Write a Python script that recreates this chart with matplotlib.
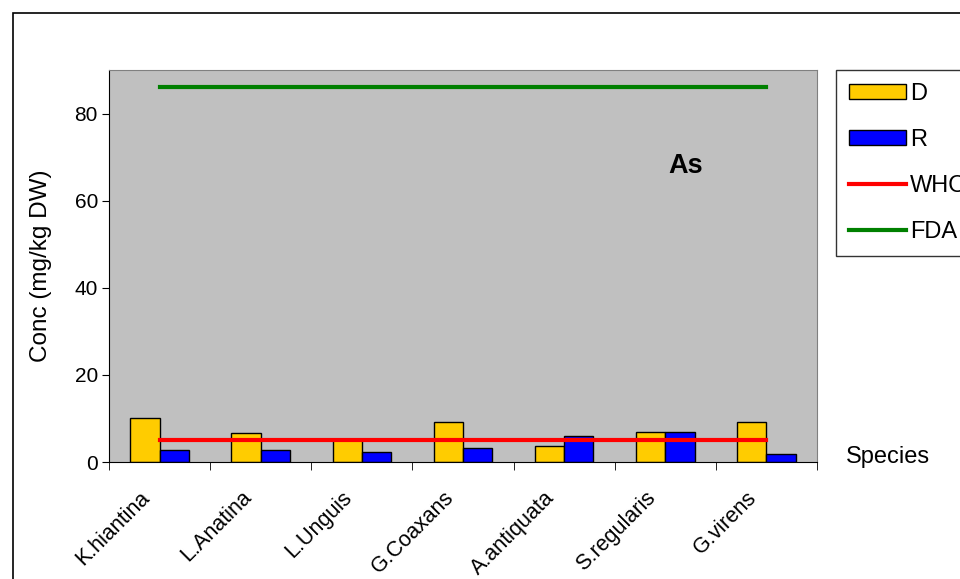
import matplotlib
matplotlib.use("Agg")
import matplotlib.pyplot as plt
from matplotlib.patches import Rectangle, Patch
from matplotlib.lines import Line2D
import matplotlib.transforms as mtransforms
import numpy as np

plt.rcParams['font.family'] = ['Liberation Sans', 'DejaVu Sans']

species = ["K.hiantina", "L.Anatina", "L.Unguis", "G.Coaxans",
           "A.antiquata", "S.regularis", "G.virens"]
d_vals = [10.0, 6.7, 5.2, 9.1, 3.7, 6.8, 9.1]
r_vals = [2.7, 2.7, 2.3, 3.1, 6.0, 6.8, 1.8]
who_vals = [5] * 7
fda_vals = [86] * 7

fig = plt.figure(figsize=(9.6, 5.79), dpi=100)
# outer chart border
fig.patches.append(Rectangle((13 / 960, -0.01), 1.0, 1 - 13 / 579 + 0.01,
                             transform=fig.transFigure, fill=False,
                             edgecolor='black', linewidth=1.2))

ax = fig.add_axes([109 / 960, 1 - 462 / 579, 708 / 960, 392 / 579])
ax.set_facecolor('#C0C0C0')

x = np.arange(len(species))
w = 0.29
ax.bar(x - w / 2, d_vals, w, color='#FFCC00', edgecolor='black', linewidth=1)
ax.bar(x + w / 2, r_vals, w, color='#0000FF', edgecolor='black', linewidth=1)
ax.plot(x, who_vals, color='#FF0000', linewidth=3)
ax.plot(x, fda_vals, color='#008000', linewidth=3)

ax.set_xlim(-0.5, len(species) - 0.5)
ax.set_ylim(0, 90)
ax.set_yticks([0, 20, 40, 60, 80])
ax.tick_params(axis='y', labelsize=15, length=5, direction='out', pad=3)
ax.set_xticks(x)
ax.set_xticklabels(species, rotation=45, ha='right', rotation_mode='anchor',
                   fontsize=15.5)
ax.tick_params(axis='x', which='major', length=0, pad=18)
ax.set_xticks(np.arange(-0.5, len(species)), minor=True)
ax.tick_params(axis='x', which='minor', length=6, direction='out')
shift = mtransforms.ScaledTranslation(-20 / 100, 0, fig.dpi_scale_trans)
for lbl in ax.get_xticklabels():
    lbl.set_transform(lbl.get_transform() + shift)

for s in ['top', 'right']:
    ax.spines[s].set_color('#808080')
ax.spines['left'].set_color('black')
ax.spines['bottom'].set_color('black')

ax.set_ylabel("Conc (mg/kg DW)", fontsize=17.5, labelpad=16)
ax.text(5.2, 68, "As", fontsize=19.5, fontweight='bold', ha='center', va='center')
fig.text(888 / 960, 1 - 457 / 579, "Species", fontsize=17, ha='center', va='center')

handles = [Patch(facecolor='#FFCC00', edgecolor='black'),
           Patch(facecolor='#0000FF', edgecolor='black'),
           Line2D([], [], color='#FF0000', linewidth=3),
           Line2D([], [], color='#008000', linewidth=3)]
leg = fig.legend(handles, ["D", "R", "WHO", "FDA"], loc='upper left',
                 bbox_to_anchor=(836 / 960, 1 - 70 / 579), fontsize=17,
                 frameon=True, fancybox=False, edgecolor='black',
                 labelspacing=1.02, handlelength=2.4, handleheight=0.6,
                 handletextpad=0.2, borderpad=0.55, borderaxespad=0)
leg.get_frame().set_linewidth(1)

fig.savefig("out.png", dpi=100)
